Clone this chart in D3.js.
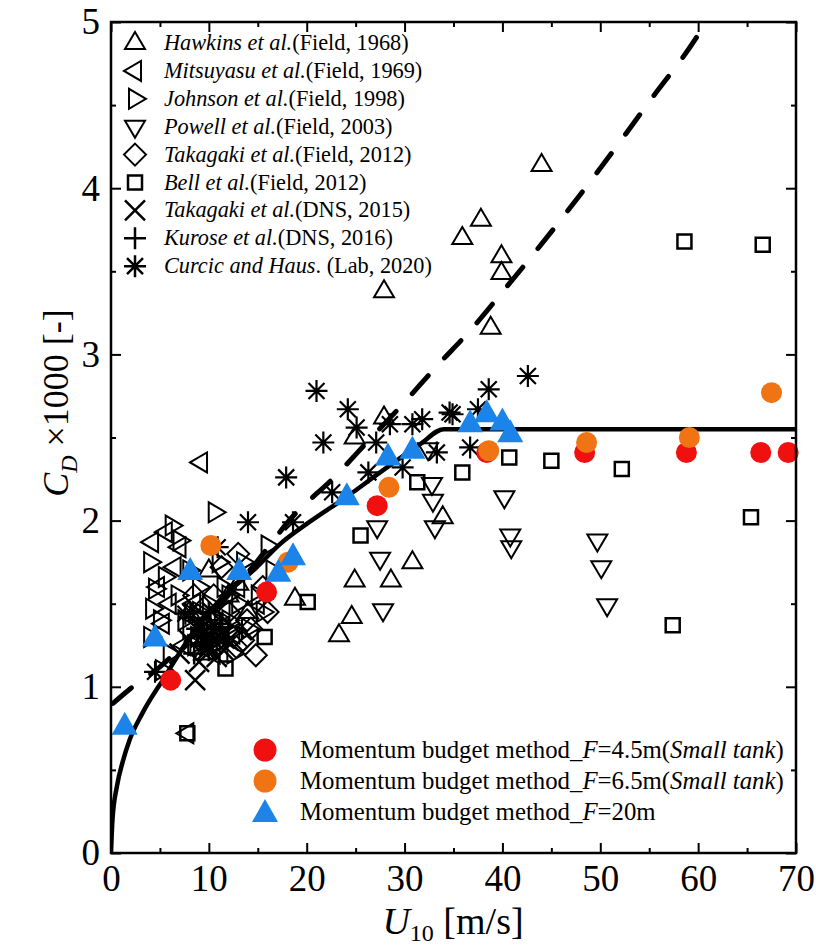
<!DOCTYPE html>
<html><head><meta charset="utf-8">
<script src="https://cdn.jsdelivr.net/npm/d3@7"></script>
<style>body{margin:0;background:#fff} svg{display:block}</style>
</head><body>
<svg id="c" width="816" height="950"></svg>
<script>
// ---------- data ----------
const xTicks = [0, 10, 20, 30, 40, 50, 60, 70];
const xMinor = [5, 15, 25, 35, 45, 55, 65];
const yTicks = [0, 1, 2, 3, 4, 5];
const yMinor = [0.5, 1.5, 2.5, 3.5, 4.5];

const hawkins = [[44.0,4.14],[35.9,3.70],[37.8,3.81],[39.9,3.59],[39.9,3.49],[38.8,3.16],[27.9,3.38],
  [27.9,2.62],[24.9,2.50],[33.9,2.02],[30.8,1.75],[24.9,1.64],[28.6,1.64],[24.6,1.42],[23.3,1.31],[18.8,1.53],
  [12.0,1.55],[10.0,1.70],[14.0,1.45],[8.0,1.45],[11.0,1.30],[9.5,1.20],[13.0,1.62]];
const mitsuyasu = [[9.2,2.35],[7.8,0.72],[4.2,1.87],[5.6,1.93],[7.0,1.84],[5.3,1.38],[4.8,1.60],[6.5,1.72],
  [8.5,1.50],[10.0,1.40],[9.0,1.28],[11.5,1.45],[12.5,1.32],[7.5,1.25],[13.0,1.60],[10.5,1.20],[15.0,1.50],[6.0,1.50]];
const johnson = [[4.0,1.75],[4.2,1.47],[4.0,1.30],[5.5,1.66],[6.2,1.97],[6.8,1.55],[7.0,1.88],[7.5,1.40],[8.0,1.70],
  [8.5,1.25],[9.0,1.60],[9.5,1.35],[10.0,1.50],[10.6,2.05],[11.0,1.30],[11.5,1.60],[12.0,1.40],[12.5,1.20],
  [13.0,1.50],[13.5,1.75],[14.0,1.35],[15.0,1.55],[15.5,1.45],[16.0,1.85],[16.5,1.70],[6.0,1.20],[5.0,1.40],
  [9.0,1.45],[8.0,1.35],[10.5,1.25],[12.0,1.55],[11.0,1.75],[4.5,1.59],[5.2,1.10],[9.8,1.28],[10.8,1.42],
  [8.8,1.30],[11.8,1.35]];
const powell = [[40.2,2.14],[40.8,1.91],[40.9,1.84],[49.7,1.88],[50.1,1.72],[50.7,1.49],[27.2,1.96],[27.5,1.77],
  [27.8,1.46],[32.8,2.22],[32.9,2.12],[33.1,1.96],[32.4,2.43]];
const takagakiField = [[14.8,1.19],[11.3,1.72],[13.9,1.40],[12.5,1.30],[10.5,1.55],[9.0,1.40],[15.5,1.60],
  [13.0,1.80],[11.0,1.25],[16.0,1.45],[8.5,1.55],[12.0,1.45],[13.5,1.28],[14.3,1.35],[12.8,1.24]];
const bell = [[35.9,2.29],[40.7,2.38],[45.0,2.36],[52.2,2.31],[65.4,2.02],[57.4,1.37],[58.6,3.68],[66.6,3.66],
  [31.3,2.23],[25.5,1.91],[20.1,1.51],[15.7,1.30],[11.7,1.11],[7.8,0.72]];
const takagakiDNS = [[8.6,1.04],[10.0,1.25],[9.5,1.32],[10.5,1.38],[11.0,1.30],[9.8,1.22],[7.0,1.20],[12.0,1.28],
  [9.0,1.15],[9.2,1.35],[10.3,1.45],[11.5,1.22],[8.0,1.28],[10.8,1.18],[9.6,1.42]];
const kurose = [[9.5,1.30],[10.2,1.35],[10.8,1.28],[9.8,1.40],[11.2,1.38],[10.0,1.22],[8.8,1.35],[12.0,1.36],
  [9.3,1.25],[10.5,1.32],[11.6,1.30],[8.5,1.20],[10.0,1.45]];
const curcic = [[21.0,2.78],[24.2,2.67],[25.1,2.56],[21.7,2.47],[27.1,2.47],[28.5,2.58],[30.8,2.58],[31.8,2.61],
  [34.6,2.65],[33.3,2.41],[36.7,2.44],[17.9,2.26],[26.3,2.29],[29.8,2.32],[22.6,2.17],[18.6,1.99],[42.6,2.87],
  [38.6,2.79],[37.5,2.67],[34.9,2.64],[14.0,1.99],[10.9,1.84],[8.1,1.45],[4.5,1.09],[7.6,1.44]];

const mbm45 = [[6.1,1.04],[15.9,1.57],[27.2,2.09],[38.4,2.41],[48.4,2.41],[58.8,2.41],[66.4,2.41],[69.2,2.41]];
const mbm65 = [[10.2,1.85],[18.1,1.75],[28.4,2.20],[38.6,2.42],[48.6,2.47],[59.1,2.50],[67.5,2.77]];
const mbm20 = [[1.4,0.76],[4.5,1.29],[8.1,1.69],[13.1,1.69],[17.1,1.68],[18.6,1.78],[24.1,2.14],[28.3,2.38],
  [30.8,2.42],[36.7,2.58],[38.4,2.64],[40.0,2.59],[40.8,2.52]];

const solidCurve = [[0,0],[0.15,0.2],[0.6,0.4],[1.2,0.55],[1.9,0.68],[3.2,0.84],[5.5,1.06],[8.3,1.32],[11.1,1.52],
  [14.9,1.72],[17.3,1.86],[20,1.98],[24,2.14],[27.5,2.29],[31.6,2.46],[34,2.55],[70,2.55]];
const dashedCurve = [[0.2,0.90],[2.0,0.99],[5.0,1.12],[10,1.42],[15,1.76],[18.5,2.02],[22.8,2.26],[26.3,2.48],
  [29.8,2.70],[33.3,2.93],[36.8,3.15],[40.2,3.39],[43.4,3.62],[50,4.12],[55,4.52],[60.5,4.97],[61,5.02]];

// ---------- setup ----------
const svg = d3.select("#c");
const FONT = "'Liberation Serif','Times New Roman',serif";
const x = d3.scaleLinear().domain([0,70]).range([111,796]);
const y = d3.scaleLinear().domain([0,5]).range([853,22]);

svg.append("defs").append("clipPath").attr("id","plot")
  .append("rect").attr("x",111).attr("y",22).attr("width",685).attr("height",831);

const sym = {
  up: "M0,-11 L10,6 L-10,6 Z",
  down: "M0,11 L10,-6 L-10,-6 Z",
  left: "M-11,0 L6,-10 L6,10 Z",
  right: "M11,0 L-6,-10 L-6,10 Z",
  diamond: "M0,-11 L11,0 L0,11 L-11,0 Z",
  square: "M-7,-7 L7,-7 L7,7 L-7,7 Z",
  cross: "M-10,-10 L10,10 M-10,10 L10,-10",
  plus: "M-11,0 L11,0 M0,-11 L0,11",
  star: "M-11,0 L11,0 M0,-11 L0,11 M-8,-8 L8,8 M-8,8 L8,-8",
  bigUp: "M0,-15 L13,8 L-13,8 Z"
};

const g = svg.append("g");
function drawOpen(data, path, sw=2) {
  g.append("g").attr("clip-path","url(#plot)").selectAll("path").data(data).join("path")
    .attr("d", path).attr("transform", d => `translate(${x(d[0])},${y(d[1])})`)
    .attr("fill","none").attr("stroke","#000").attr("stroke-width", sw).attr("stroke-linejoin","miter");
}
drawOpen(johnson, sym.right);
drawOpen(mitsuyasu, sym.left);
drawOpen(takagakiField, sym.diamond);
drawOpen(hawkins, sym.up);
drawOpen(powell, sym.down);
drawOpen(bell, sym.square, 2.5);
drawOpen(takagakiDNS, sym.cross, 2.5);
drawOpen(kurose, sym.plus, 2.5);
drawOpen(curcic, sym.star, 2.2);

const line = d3.line().x(d => x(d[0])).y(d => y(d[1])).curve(d3.curveMonotoneX);
g.append("path").attr("clip-path","url(#plot)").attr("d", line(dashedCurve))
  .attr("fill","none").attr("stroke","#000").attr("stroke-width",5)
  .attr("stroke-dasharray","24,24").attr("stroke-linecap","round");
g.append("path").attr("clip-path","url(#plot)").attr("d", line(solidCurve))
  .attr("fill","none").attr("stroke","#000").attr("stroke-width",4.5);

const RED = "#f01010", ORANGE = "#f07314", BLUE = "#1c84e8";
g.append("g").selectAll("circle").data(mbm45).join("circle")
  .attr("cx", d => x(d[0])).attr("cy", d => y(d[1])).attr("r",10.5).attr("fill",RED);
g.append("g").selectAll("circle").data(mbm65).join("circle")
  .attr("cx", d => x(d[0])).attr("cy", d => y(d[1])).attr("r",10.5).attr("fill",ORANGE);
g.append("g").selectAll("path").data(mbm20).join("path")
  .attr("d", sym.bigUp).attr("transform", d => `translate(${x(d[0])},${y(d[1])})`).attr("fill",BLUE);

// ---------- axes ----------
function styleAxis(sel) {
  sel.select(".domain").remove();
  sel.selectAll(".tick line").attr("stroke","#000").attr("stroke-width",2);
  sel.selectAll("text").attr("font-family",FONT).attr("font-size",37).attr("fill","#000");
}
svg.append("g").attr("transform","translate(0,853)")
  .call(d3.axisBottom(x).tickValues(xTicks).tickSize(-10).tickPadding(12).tickFormat(d3.format("d"))).call(styleAxis);
svg.append("g").attr("transform","translate(0,853)")
  .call(d3.axisBottom(x).tickValues(xMinor).tickSize(-5).tickFormat("")).call(styleAxis);
svg.append("g").attr("transform","translate(0,22)")
  .call(d3.axisTop(x).tickValues(xTicks).tickSize(-10).tickFormat("")).call(styleAxis);
svg.append("g").attr("transform","translate(0,22)")
  .call(d3.axisTop(x).tickValues(xMinor).tickSize(-5).tickFormat("")).call(styleAxis);
svg.append("g").attr("transform","translate(111,0)")
  .call(d3.axisLeft(y).tickValues(yTicks).tickSize(-10).tickPadding(11).tickFormat(d3.format("d"))).call(styleAxis);
svg.append("g").attr("transform","translate(111,0)")
  .call(d3.axisLeft(y).tickValues(yMinor).tickSize(-5).tickFormat("")).call(styleAxis);
svg.append("g").attr("transform","translate(796,0)")
  .call(d3.axisRight(y).tickValues(yTicks).tickSize(-10).tickFormat("")).call(styleAxis);
svg.append("g").attr("transform","translate(796,0)")
  .call(d3.axisRight(y).tickValues(yMinor).tickSize(-5).tickFormat("")).call(styleAxis);

svg.append("rect").attr("x",111).attr("y",22).attr("width",685).attr("height",831)
  .attr("fill","none").attr("stroke","#000").attr("stroke-width",2.5);

// axis titles
const xt = svg.append("text").attr("x",453).attr("y",934).attr("text-anchor","middle")
  .attr("font-family",FONT).attr("font-size",38).attr("fill","#000");
xt.append("tspan").attr("font-style","italic").text("U");
xt.append("tspan").attr("font-size",24).attr("dy",7).text("10");
xt.append("tspan").attr("dy",-7).text(" [m/s]");

const yt = svg.append("text").attr("transform","translate(68,403) rotate(-90)").attr("text-anchor","middle")
  .attr("font-family",FONT).attr("font-size",36).attr("fill","#000");
yt.append("tspan").attr("font-style","italic").text("C");
yt.append("tspan").attr("font-style","italic").attr("font-size",24).attr("dy",9).text("D");
yt.append("tspan").attr("dy",-9).text(" ×1000 [-]");

// ---------- legends ----------
const legend1 = [
  {sym:"up", it:"Hawkins et al.", rm:"(Field, 1968)"},
  {sym:"left", it:"Mitsuyasu et al.", rm:"(Field, 1969)"},
  {sym:"right", it:"Johnson et al.", rm:"(Field, 1998)"},
  {sym:"down", it:"Powell et al.", rm:"(Field, 2003)"},
  {sym:"diamond", it:"Takagaki et al.", rm:"(Field, 2012)"},
  {sym:"square", it:"Bell et al.", rm:"(Field, 2012)"},
  {sym:"cross", it:"Takagaki et al.", rm:"(DNS, 2015)"},
  {sym:"plus", it:"Kurose et al.", rm:"(DNS, 2016)"},
  {sym:"star", it:"Curcic and Haus", rm:". (Lab, 2020)"}
];
const L1 = svg.append("g");
legend1.forEach((d,i) => {
  const yy = 43 + i*27.9;
  L1.append("path").attr("d", sym[d.sym]).attr("transform",`translate(135,${yy})`)
    .attr("fill","none").attr("stroke","#000").attr("stroke-width", (d.sym==="cross"||d.sym==="plus"||d.sym==="star"||d.sym==="square")?2.5:2);
  const t = L1.append("text").attr("x",164).attr("y",yy+7).attr("font-family",FONT).attr("font-size",22.3).attr("fill","#000");
  t.append("tspan").attr("font-style","italic").text(d.it);
  t.append("tspan").text(d.rm);
});

const legend2 = [
  {color:RED, shape:"circle", F:"4.5m(", tank:true},
  {color:ORANGE, shape:"circle", F:"6.5m(", tank:true},
  {color:BLUE, shape:"tri", F:"20m", tank:false}
];
const L2 = svg.append("g");
legend2.forEach((d,i) => {
  const yy = 750 + i*31;
  if (d.shape==="circle") L2.append("circle").attr("cx",265).attr("cy",yy).attr("r",11.5).attr("fill",d.color);
  else L2.append("path").attr("d",sym.bigUp).attr("transform",`translate(265,${yy+2})`).attr("fill",d.color);
  const t = L2.append("text").attr("x",300).attr("y",yy+8).attr("font-family",FONT).attr("font-size",24.8).attr("fill","#000");
  t.append("tspan").text("Momentum budget method_");
  t.append("tspan").attr("font-style","italic").text("F");
  t.append("tspan").text("=" + d.F);
  if (d.tank) { t.append("tspan").attr("font-style","italic").text("Small tank"); t.append("tspan").text(")"); }
});
</script>
</body></html>
